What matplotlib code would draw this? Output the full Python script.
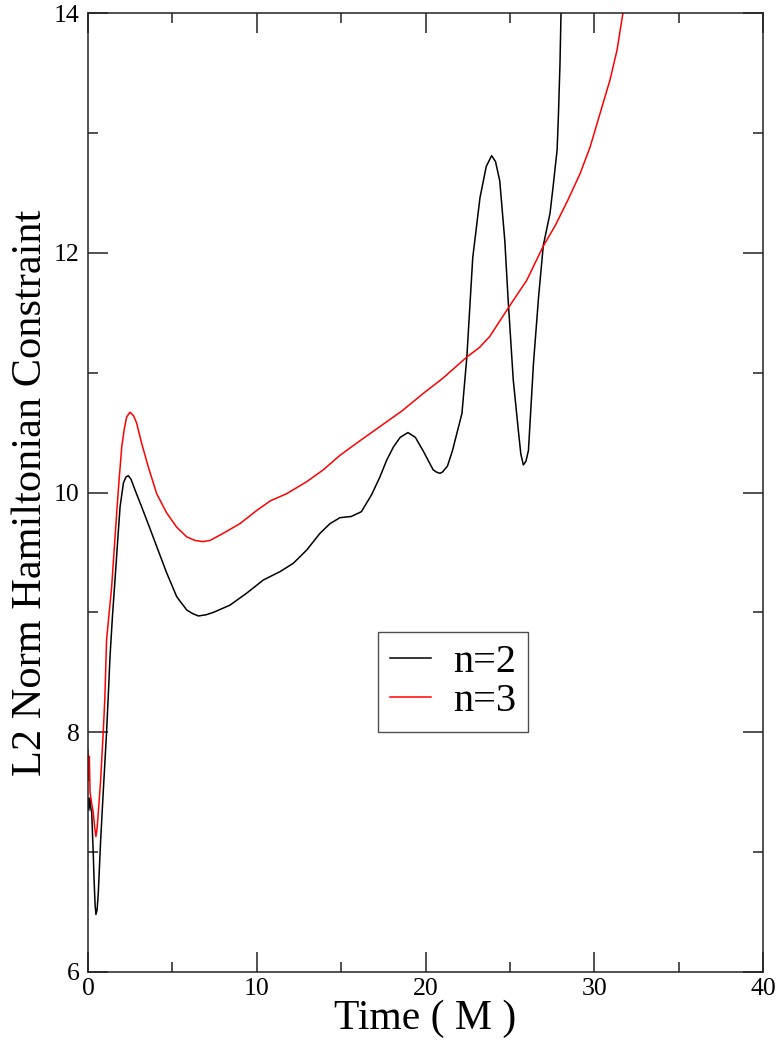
import matplotlib
matplotlib.use("Agg")
import matplotlib.pyplot as plt
from matplotlib.ticker import MultipleLocator

plt.rcParams['font.family'] = ['Liberation Serif', 'DejaVu Serif']

# n=2 series (black)
t_n2 = [0.0, 0.05, 0.1, 0.15, 0.22, 0.31, 0.36, 0.42, 0.47, 0.54, 0.61, 0.75, 0.91, 1.1,
        1.2, 1.3, 1.45, 1.6, 1.75, 1.9, 2.1, 2.25, 2.39, 2.55, 2.79, 3.18, 3.67, 4.07,
        4.66, 5.26, 5.85, 6.2, 6.54, 7.0, 7.43, 8.41, 9.4, 10.39, 11.38, 12.17, 12.96,
        13.75, 14.34, 14.93, 15.6, 16.2, 16.8, 17.3, 17.7, 18.1, 18.5, 18.96, 19.4, 19.85,
        20.45, 20.65, 20.86, 21.0, 21.3, 21.6, 22.16, 22.45, 22.8, 23.23, 23.6, 23.92,
        24.15, 24.4, 24.7, 24.9, 25.2, 25.5, 25.65, 25.8, 25.95, 26.1, 26.4, 26.7, 26.98,
        27.38, 27.56, 27.8, 27.88, 27.97, 28.03, 28.2]
v_n2 = [7.45, 7.35, 7.45, 7.38, 7.33, 6.99, 6.77, 6.56, 6.48, 6.52, 6.66, 7.1, 7.52, 8.0,
        8.3, 8.62, 8.97, 9.27, 9.58, 9.88, 10.08, 10.13, 10.14, 10.11, 10.02, 9.88, 9.7, 9.55,
        9.33, 9.13, 9.02, 8.99, 8.97, 8.98, 9.0, 9.06, 9.16, 9.27, 9.34, 9.41, 9.52,
        9.66, 9.74, 9.79, 9.8, 9.84, 9.98, 10.13, 10.27, 10.38, 10.46, 10.5, 10.46, 10.35,
        10.19, 10.17, 10.16, 10.17, 10.22, 10.35, 10.66, 11.13, 11.96, 12.46, 12.72, 12.81,
        12.76, 12.6, 12.1, 11.6, 10.94, 10.52, 10.32, 10.23, 10.26, 10.35, 11.08, 11.63, 12.06,
        12.33, 12.55, 12.86, 13.16, 13.58, 14.0, 15.0]

# n=3 series (red)
t_n3 = [0.0, 0.04, 0.08, 0.12, 0.2, 0.31, 0.4, 0.47, 0.54, 0.61, 0.75, 0.91, 1.0, 1.1,
        1.25, 1.4, 1.55, 1.7, 1.85, 2.0, 2.15, 2.29, 2.49, 2.7, 2.88, 3.18, 3.58, 4.07,
        4.66, 5.26, 5.85, 6.34, 6.8, 7.23, 8.02, 9.0, 10.0, 10.8, 11.77, 12.96, 13.95,
        14.93, 16.1, 17.3, 18.6, 19.9, 21.0, 22.45, 23.2, 23.8, 24.4, 25.19, 26.0, 26.96,
        27.7, 28.44, 29.16, 29.75, 30.34, 30.93, 31.35, 31.7, 32.0]
v_n3 = [7.85, 7.6, 7.8, 7.5, 7.42, 7.33, 7.2, 7.13, 7.2, 7.33, 7.6, 8.02, 8.29, 8.77,
        8.99, 9.21, 9.52, 9.83, 10.12, 10.38, 10.53, 10.63, 10.67, 10.64, 10.58, 10.41, 10.21,
        9.99, 9.83, 9.71, 9.63, 9.6, 9.59, 9.6, 9.66, 9.74, 9.85, 9.93, 9.99, 10.09, 10.19,
        10.31, 10.43, 10.55, 10.68, 10.83, 10.95, 11.13, 11.21, 11.3, 11.43, 11.6, 11.77, 12.05,
        12.23, 12.44, 12.66, 12.88, 13.16, 13.44, 13.69, 14.0, 14.25]

x_ticks = [0, 10, 20, 30, 40]
y_ticks = [6, 8, 10, 12, 14]
series_labels = ["n=2", "n=3"]

fig = plt.figure(figsize=(7.8, 10.51), dpi=100)
ax = fig.add_axes([88/780, 1 - 972/1051, (763-88)/780, (972-13)/1051])

ax.plot(t_n2, v_n2, color='black', lw=1.1, label=series_labels[0])
ax.plot(t_n3, v_n3, color='red', lw=1.1, label=series_labels[1])

ax.set_xlim(0, 40)
ax.set_ylim(6, 14)
ax.set_xticks(x_ticks)
ax.set_yticks(y_ticks)
ax.xaxis.set_minor_locator(MultipleLocator(5))
ax.yaxis.set_minor_locator(MultipleLocator(1))
ax.tick_params(which='both', direction='in', top=True, right=True,
               width=1.1, color='#222222', labelsize=18.5)
ax.tick_params(which='major', length=14.5)
ax.tick_params(axis='x', which='major', pad=4)
ax.tick_params(axis='y', which='major', pad=6)
ax.tick_params(which='minor', length=7.5)
for s in ax.spines.values():
    s.set_linewidth(1.1)
    s.set_color('#222222')

ax.set_xlabel("Time ( M )", fontsize=30, labelpad=0)
ax.set_ylabel("L2 Norm Hamiltonian Constraint", fontsize=30.5, labelpad=3)

leg = ax.legend(loc='center', bbox_to_anchor=(453/780, 1 - 682/1051),
                bbox_transform=fig.transFigure, fontsize=29, frameon=True,
                fancybox=False, handlelength=1.0, handletextpad=0.55,
                labelspacing=0.05, borderpad=0.3, borderaxespad=0)
leg.get_frame().set_edgecolor('#222222')
leg.get_frame().set_linewidth(1.0)

fig.savefig("out.png", dpi=100)
